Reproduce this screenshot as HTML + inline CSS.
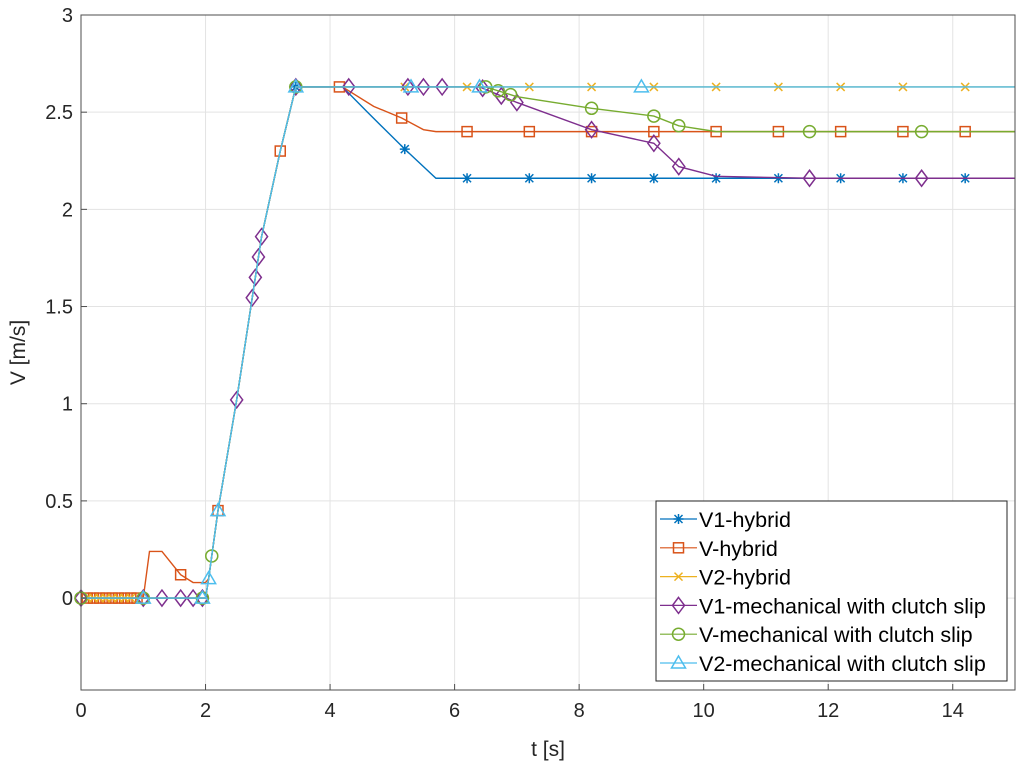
<!DOCTYPE html>
<html><head><meta charset="utf-8"><style>
html,body{margin:0;padding:0;background:#fff;}
svg{display:block;font-family:"Liberation Sans",sans-serif;}
</style></head><body>
<svg id="chart" width="1016" height="766" viewBox="0 0 1016 766">
<rect x="0" y="0" width="1016" height="766" fill="#fff"/>
<g id="grid"></g><g id="series"></g><g id="axes"></g><g id="legend"></g>
</svg>
<script>
const xTicks=[0,2,4,6,8,10,12,14];
const yTicks=[0,0.5,1,1.5,2,2.5,3];
const yTickLabels=["0","0.5","1","1.5","2","2.5","3"];
const ramp_t=[2.0,2.05,2.2,2.5,2.9,3.2,3.45];
const ramp_v=[0,0.1,0.45,1.02,1.86,2.3,2.63];
const v1h_t=[0,2,...ramp_t.slice(1),4.2,4.6,5.2,5.5,5.7,15];
const v1h_v=[0,0,...ramp_v.slice(1),2.63,2.5,2.31,2.22,2.16,2.16];
const v1h_m=[5.2,6.2,7.2,8.2,9.2,10.2,11.2,12.2,13.2,14.2,3.45];
const vh_t=[0,1.0,1.1,1.3,1.6,1.8,2,...ramp_t.slice(1),4.2,4.7,5.15,5.5,5.7,15];
const vh_v=[0,0,0.24,0.24,0.12,0.08,0.08,...ramp_v.slice(1),2.63,2.53,2.47,2.41,2.40,2.40];
const vh_m=[0.1,0.2,0.3,0.4,0.5,0.6,0.7,0.8,0.9,1.6,2.2,3.2,4.15,5.15,6.2,7.2,8.2,9.2,10.2,11.2,12.2,13.2,14.2];
const v2h_t=[0,2,...ramp_t.slice(1),15];
const v2h_v=[0,0,...ramp_v.slice(1),2.63];
const v2h_m=[0.1,0.2,0.3,0.4,0.5,0.6,0.7,0.8,5.2,6.2,7.2,8.2,9.2,10.2,11.2,12.2,13.2,14.2];
const v1m_t=[0,2,...ramp_t.slice(1),6.4,7.0,8.2,9.2,9.6,10.2,11.7,15];
const v1m_v=[0,0,...ramp_v.slice(1),2.63,2.55,2.41,2.34,2.22,2.17,2.16,2.16];
const v1m_m=[0,1.0,1.3,1.6,1.8,1.95,2.5,2.75,2.8,2.85,2.9,3.45,4.3,5.25,5.5,5.8,6.45,6.75,7.0,8.2,9.2,9.6,11.7,13.5];
const vm_t=[0,2,...ramp_t.slice(1),6.5,7.0,8.2,9.2,9.6,10.2,15];
const vm_v=[0,0,...ramp_v.slice(1),2.63,2.58,2.52,2.48,2.43,2.40,2.40];
const vm_m=[0,1.0,1.95,2.1,3.45,6.5,6.7,6.9,8.2,9.2,9.6,11.7,13.5];
const v2m_t=[0,2,...ramp_t.slice(1),15];
const v2m_v=[0,0,...ramp_v.slice(1),2.63];
const v2m_m=[1.0,1.95,2.05,2.2,3.45,5.3,6.4,9.0];
const names=["V1-hybrid","V-hybrid","V2-hybrid","V1-mechanical with clutch slip","V-mechanical with clutch slip","V2-mechanical with clutch slip"];
const S=[
 {t:v1h_t,v:v1h_v,m:v1h_m,c:"#0072BD",mk:"star",n:"v1-hybrid"},
 {t:vh_t,v:vh_v,m:vh_m,c:"#D95319",mk:"square",n:"v-hybrid"},
 {t:v2h_t,v:v2h_v,m:v2h_m,c:"#EDB120",mk:"x",n:"v2-hybrid"},
 {t:v1m_t,v:v1m_v,m:v1m_m,c:"#7E2F8E",mk:"diamond",n:"v1-mechanical"},
 {t:vm_t,v:vm_v,m:vm_m,c:"#77AC30",mk:"circle",n:"v-mechanical"},
 {t:v2m_t,v:v2m_v,m:v2m_m,c:"#4DBEEE",mk:"triangle",n:"v2-mechanical"}];
const L=81,R=1015,T=15,B=690,XMAX=15,YMIN=-0.473,YMAX=3;
const X=t=>L+(t/XMAX)*(R-L);
const Y=v=>B-(v-YMIN)/(YMAX-YMIN)*(B-T);
const NS="http://www.w3.org/2000/svg";
function mk(tag,a,p){const e=document.createElementNS(NS,tag);for(const k in a)e.setAttribute(k,a[k]);p.appendChild(e);return e;}
function interp(ts,vs,t){for(let i=0;i<ts.length-1;i++){if(t>=ts[i]&&t<=ts[i+1]){const d=ts[i+1]-ts[i];return d?vs[i]+(vs[i+1]-vs[i])*(t-ts[i])/d:vs[i+1];}}return vs[vs.length-1];}
function marker(type,x,y,c,p){
 const g=mk("g",{stroke:c,fill:"none","stroke-width":1.5},p);
 if(type==="star"){mk("path",{d:`M${x-5} ${y}H${x+5}M${x} ${y-5}V${y+5}M${x-4} ${y-4}L${x+4} ${y+4}M${x-4} ${y+4}L${x+4} ${y-4}`},g);}
 else if(type==="square"){mk("rect",{x:x-5,y:y-5,width:10,height:10},g);}
 else if(type==="x"){mk("path",{d:`M${x-4} ${y-4}L${x+4} ${y+4}M${x-4} ${y+4}L${x+4} ${y-4}`},g);}
 else if(type==="diamond"){mk("path",{d:`M${x} ${y-8}L${x+6} ${y}L${x} ${y+8}L${x-6} ${y}Z`},g);}
 else if(type==="circle"){mk("circle",{cx:x,cy:y,r:6},g);}
 else if(type==="triangle"){mk("path",{d:`M${x} ${y-7}L${x+7} ${y+5}L${x-7} ${y+5}Z`},g);}
 return g;}
const grid=document.getElementById("grid");
xTicks.forEach(t=>{const l=mk("line",{x1:X(t),x2:X(t),y1:T,y2:B,stroke:"#e3e3e3"},grid);

});
yTicks.forEach(v=>{const l=mk("line",{x1:L,x2:R,y1:Y(v),y2:Y(v),stroke:"#e3e3e3"},grid);

});
const sg=document.getElementById("series");
S.forEach(s=>{const g=mk("g",{},sg);


mk("polyline",{points:s.t.map((t,i)=>X(t)+","+Y(s.v[i])).join(" "),fill:"none",stroke:s.c,"stroke-width":1.4},g);
s.m.forEach(t=>{const m=marker(s.mk,X(t),Y(interp(s.t,s.v,t)),s.c,g);

});});
const ax=document.getElementById("axes");
mk("rect",{x:L,y:T,width:R-L,height:B-T,fill:"none",stroke:"#4d4d4d"},ax);
xTicks.forEach(t=>{mk("line",{x1:X(t),x2:X(t),y1:B,y2:B-6,stroke:"#4d4d4d"},ax);
const tx=mk("text",{x:X(t),y:B+27,"text-anchor":"middle","font-size":20,fill:"#262626"},ax);tx.textContent=t;

});
yTicks.forEach((v,i)=>{mk("line",{x1:L,x2:L+6,y1:Y(v),y2:Y(v),stroke:"#4d4d4d"},ax);
const tx=mk("text",{x:L-8,y:Y(v)+7,"text-anchor":"end","font-size":20,fill:"#262626"},ax);tx.textContent=yTickLabels[i];

});
const xt=mk("text",{x:(L+R)/2,y:756,"text-anchor":"middle","font-size":21,fill:"#262626"},ax);xt.textContent="t [s]";


const yt=mk("text",{x:0,y:0,transform:`translate(25,${(T+B)/2}) rotate(-90)`,"text-anchor":"middle","font-size":21,fill:"#262626"},ax);yt.textContent="V [m/s]";


const lg=document.getElementById("legend");


mk("rect",{x:656,y:501,width:351,height:180,fill:"#fff",stroke:"#262626"},lg);
S.forEach((s,i)=>{const y=519+i*28.8;const g=mk("g",{},lg);


mk("line",{x1:660,x2:697,y1:y,y2:y,stroke:s.c,"stroke-width":1.2},g);
marker(s.mk,678.5,y,s.c,g);
const tx=mk("text",{x:699,y:y+8,"font-size":21.5,fill:"#000"},g);tx.textContent=names[i];});
</script>
</body></html>
